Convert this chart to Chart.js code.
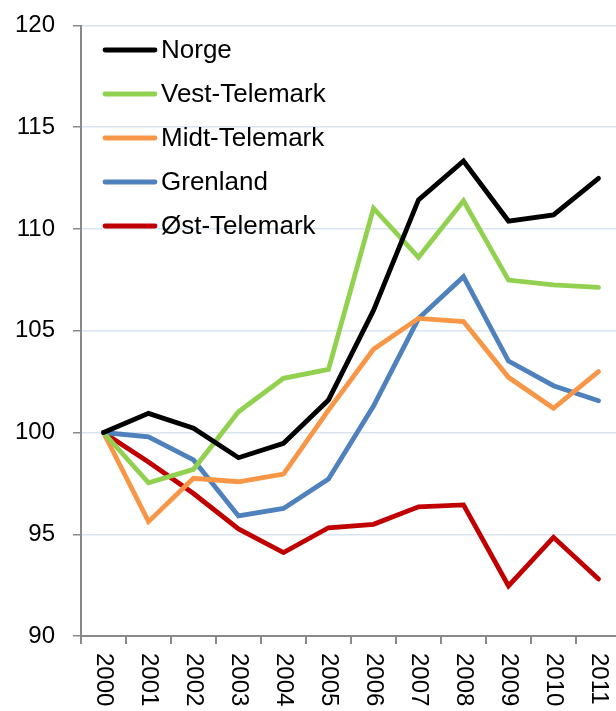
<!DOCTYPE html>
<html>
<head>
<meta charset="utf-8">
<script src="https://cdn.jsdelivr.net/npm/chart.js@4/dist/chart.umd.min.js"></script>
<style>
  html, body { margin: 0; padding: 0; background: #fff; overflow: hidden; }
</style>
</head>
<body>
<canvas id="myChart" width="621" height="711"></canvas>
<script>
var years = ['2000', '2001', '2002', '2003', '2004', '2005', '2006', '2007', '2008', '2009', '2010', '2011'];
var norge = [100, 100.94, 100.21, 98.76, 99.47, 101.6, 106.0, 111.43, 113.34, 110.39, 110.69, 112.49];
var vestTelemark = [100, 97.53, 98.19, 101.02, 102.66, 103.1, 111.02, 108.61, 111.39, 107.49, 107.25, 107.13];
var midtTelemark = [100, 95.62, 97.75, 97.58, 97.96, 101.1, 104.09, 105.61, 105.45, 102.71, 101.19, 102.99];
var grenland = [100, 99.79, 98.65, 95.9, 96.27, 97.71, 101.3, 105.6, 107.66, 103.51, 102.3, 101.56];
var ostTelemark = [100, 98.55, 97.0, 95.26, 94.1, 95.32, 95.49, 96.35, 96.44, 92.46, 94.85, 92.8];
var yTicks = [90, 95, 100, 105, 110, 115, 120];

var fontName = "'Liberation Sans', Arial, sans-serif";
var axisGray = '#898989';

function line(label, data, color) {
    return {
        label: label,
        data: data,
        borderColor: color,
        backgroundColor: color,
        borderWidth: 4.8,
        pointRadius: 0,
        tension: 0,
        borderCapStyle: 'round',
        borderJoinStyle: 'miter'
    };
}

// legend inside the plot, top left, and year labels turned clockwise
var extras = {
    id: 'extras',
    afterDraw: function (chart) {
        var ctx = chart.ctx;
        ctx.save();
        ctx.font = '26px ' + fontName;
        ctx.fillStyle = '#000';
        ctx.textBaseline = 'middle';
        chart.data.datasets.forEach(function (ds, i) {
            var y = 50 + i * 44;
            ctx.strokeStyle = ds.borderColor;
            ctx.lineWidth = 4.8;
            ctx.lineCap = 'round';
            ctx.beginPath();
            ctx.moveTo(105, y);
            ctx.lineTo(155, y);
            ctx.stroke();
            ctx.textAlign = 'left';
            ctx.fillText(ds.label, 161, y + 1);
        });
        var xs = chart.scales.x;
        ctx.font = '24px ' + fontName;
        chart.data.labels.forEach(function (lab, i) {
            var x = xs.getPixelForValue(i);
            ctx.save();
            ctx.translate(x, xs.top + 17);
            ctx.rotate(Math.PI / 2);
            ctx.textAlign = 'left';
            ctx.textBaseline = 'middle';
            ctx.fillText(lab, 0, 0);
            ctx.restore();
        });
        ctx.restore();
    }
};

var myChart = document.getElementById('myChart');
var new_chart = new Chart(myChart, {
    type: 'line',
    data: {
        labels: years,
        datasets: [
            line('Norge', norge, '#000000'),
            line('Vest-Telemark', vestTelemark, '#92D050'),
            line('Midt-Telemark', midtTelemark, '#F79646'),
            line('Grenland', grenland, '#4F81BD'),
            line('Øst-Telemark', ostTelemark, '#C00000')
        ]
    },
    options: {
        responsive: false,
        maintainAspectRatio: false,
        animation: false,
        layout: { padding: { top: 25.5, left: 0, right: 0, bottom: 0 } },
        plugins: {
            legend: { display: false },
            tooltip: { enabled: false }
        },
        scales: {
            x: {
                offset: true,
                grid: {
                    offset: true,
                    drawOnChartArea: false,
                    drawTicks: true,
                    tickLength: 8,
                    color: axisGray,
                    lineWidth: 2
                },
                border: { display: true, color: axisGray, width: 2 },
                ticks: { display: false },
                afterFit: function (scale) {
                    scale.height = 75;
                    scale.paddingLeft = 0;
                    scale.paddingRight = 0;
                }
            },
            y: {
                min: 90,
                max: 120,
                afterBuildTicks: function (scale) {
                    scale.ticks = yTicks.map(function (v) { return { value: v }; });
                },
                grid: {
                    color: '#dae3f0',
                    lineWidth: 1.5,
                    tickColor: axisGray,
                    tickLength: 8,
                    drawTicks: true
                },
                border: { display: true, color: axisGray, width: 2 },
                ticks: {
                    color: '#000',
                    padding: 18,
                    font: { family: fontName, size: 24 }
                },
                afterFit: function (scale) {
                    scale.width = 81;
                    scale.paddingTop = 0;
                    scale.paddingBottom = 0;
                }
            }
        }
    },
    plugins: [extras]
});
</script>
</body>
</html>
